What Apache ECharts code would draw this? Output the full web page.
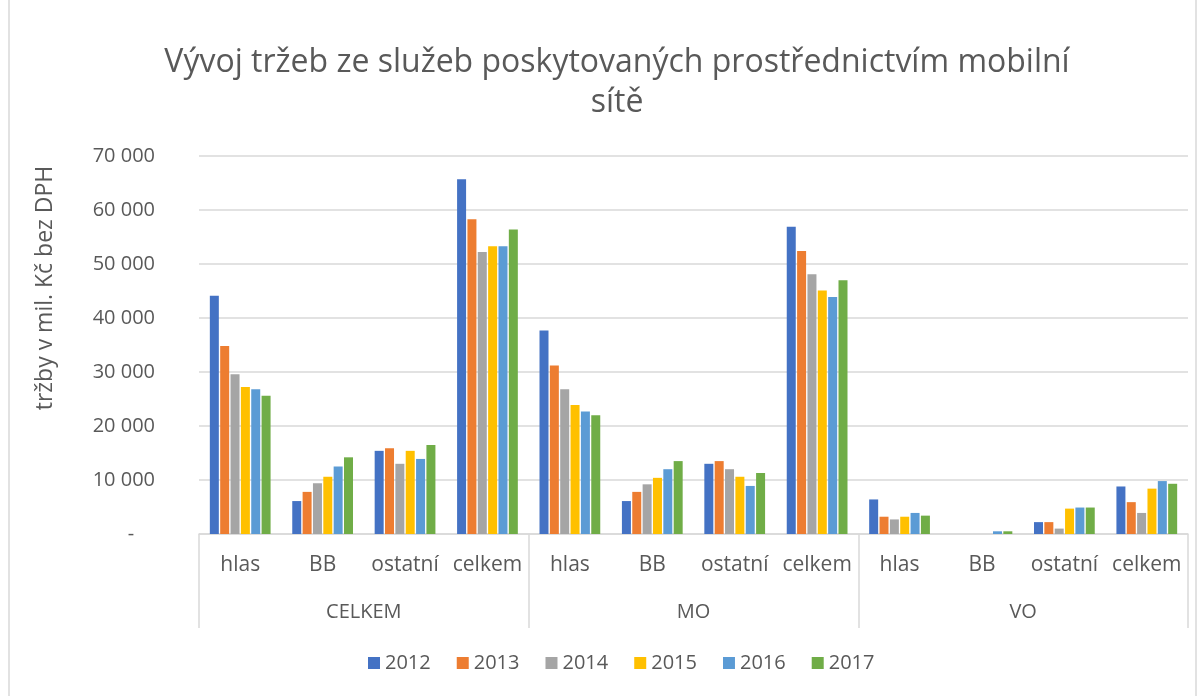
<!DOCTYPE html>
<html>
<head>
<meta charset="UTF-8">
<title>Vývoj tržeb</title>
<style>
  html, body { margin: 0; padding: 0; background: #fff; }
  #main { width: 1202px; height: 696px; }
</style>
</head>
<body>
<div id="main"></div>
<script src="https://cdn.jsdelivr.net/npm/echarts@6/dist/echarts.min.js"></script>
<script>
// podkategorie a skupiny na ose X
var categories = ['hlas', 'BB', 'ostatní', 'celkem', 'hlas', 'BB', 'ostatní', 'celkem', 'hlas', 'BB', 'ostatní', 'celkem'];
var groups = ['CELKEM', 'MO', 'VO'];
var years = ['2012', '2013', '2014', '2015', '2016', '2017'];

// tržby v mil. Kč
var v2012 = [44100, 6100, 15400, 65700, 37700, 6100, 13000, 56900, 6400, 0, 2200, 8800];
var v2013 = [34800, 7800, 15900, 58300, 31200, 7800, 13500, 52400, 3200, 0, 2200, 5900];
var v2014 = [29600, 9400, 13000, 52200, 26800, 9200, 12000, 48100, 2700, 0, 1000, 3900];
var v2015 = [27200, 10600, 15400, 53300, 23900, 10400, 10600, 45100, 3200, 0, 4700, 8400];
var v2016 = [26800, 12500, 13900, 53300, 22700, 12000, 8900, 43900, 3900, 500, 4900, 9800];
var v2017 = [25600, 14200, 16500, 56400, 22000, 13500, 11300, 47000, 3400, 500, 4900, 9300];

var yTicks = [0, 10000, 20000, 30000, 40000, 50000, 60000, 70000];

var colors = ['#4472C4', '#ED7D31', '#A5A5A5', '#FFC000', '#5B9BD5', '#70AD47'];
var values = [v2012, v2013, v2014, v2015, v2016, v2017];
var font = '"Open Sans", sans-serif';

var app = echarts.init(document.getElementById('main'));

var series = [];
for (var i = 0; i < years.length; i++) {
  series.push({
    name: years[i],
    type: 'bar',
    xAxisIndex: 0,
    barWidth: 9,
    barGap: '15%',
    itemStyle: { color: colors[i] },
    data: values[i]
  });
}

var option = {
  backgroundColor: '#fff',
  color: colors,
  textStyle: { fontFamily: font },
  title: {
    text: 'Vývoj tržeb ze služeb poskytovaných prostřednictvím mobilní\nsítě',
    left: 612,
    textAlign: 'center',
    top: 38,
    textStyle: {
      fontFamily: font,
      fontSize: 32,
      fontWeight: 'normal',
      color: '#595959',
      lineHeight: 40
    }
  },
  legend: {
    bottom: 18,
    left: 363,
    itemWidth: 12,
    itemHeight: 12,
    itemGap: 26,
    icon: 'rect',
    textStyle: { fontSize: 20, color: '#595959', fontFamily: font },
    data: years
  },
  grid: { left: 199, right: 14, top: 156, bottom: 162 },
  xAxis: [{
    type: 'category',
    data: categories,
    axisLine: { lineStyle: { color: '#d9d9d9', width: 1.5 } },
    axisTick: { show: false },
    axisLabel: { interval: 0, margin: 21, fontSize: 21, color: '#595959', fontFamily: font }
  }, {
    type: 'category',
    data: groups,
    position: 'bottom',
    axisLine: { show: false },
    axisTick: { show: true, length: 94, lineStyle: { color: '#d9d9d9', width: 1.5 } },
    axisLabel: { interval: 0, margin: 68, fontSize: 20, color: '#595959', fontFamily: font },
    splitLine: { show: false }
  }],
  yAxis: {
    type: 'value',
    min: yTicks[0],
    max: yTicks[yTicks.length - 1],
    interval: 10000,
    name: 'tržby v mil. Kč bez DPH',
    nameLocation: 'middle',
    nameGap: 142,
    nameTextStyle: { fontSize: 23, color: '#595959', fontFamily: font, padding: [0, 0, 0, 114] },
    axisLine: { show: false },
    axisTick: { show: false },
    splitLine: { lineStyle: { color: '#d9d9d9', width: 1.5 } },
    axisLabel: {
      margin: 44,
      fontSize: 20,
      color: '#595959',
      fontFamily: font,
      formatter: function (v) {
        if (v === 0) return '-    ';
        return String(v).replace(/\B(?=(\d{3})+(?!\d))/g, ' ');
      }
    }
  },
  graphic: [{
    type: 'rect',
    shape: { x: 9, y: -2, width: 1187, height: 700 },
    style: { fill: 'none', stroke: '#d9d9d9', lineWidth: 1.5 },
    silent: true
  }],
  series: series
};

app.setOption(option);
window.addEventListener('resize', function () { app.resize(); });
</script>
</body>
</html>
